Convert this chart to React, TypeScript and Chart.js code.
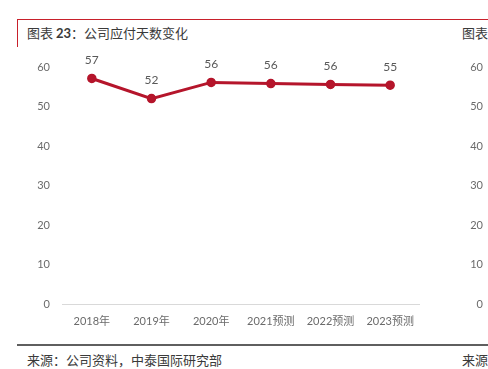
import React, { useEffect, useRef } from "react";
import { Chart, registerables } from "chart.js";

Chart.register(...registerables);

const categories = ["2018年", "2019年", "2020年", "2021预测", "2022预测", "2023预测"];
const payableDays = [57.1, 52.0, 56.1, 55.8, 55.6, 55.4];
const yMin = 0;
const yMax = 60;
const yStep = 10;

const titleText = "公司应付天数变化";
const titleNo = "23";
const sourceText = "来源：公司资料，中泰国际研究部";

const LINE_COLOR = "#B5152B";
const TEXT_GRAY = "#6b6b6b";
const FONT = "Lato, 'Noto Sans CJK SC', sans-serif";
const CJK = "'Noto Sans CJK SC', sans-serif";

const dataLabelPlugin = {
  id: "dataLabels",
  afterDatasetsDraw(chart: any) {
    const ctx = chart.ctx;
    const meta = chart.getDatasetMeta(0);
    const ds = chart.data.datasets[0];
    ctx.save();
    ctx.font = "12px " + FONT;
    ctx.fillStyle = "#595959";
    ctx.textAlign = "center";
    ctx.textBaseline = "middle";
    meta.data.forEach((pt: any, i: number) => {
      ctx.fillText(String(Math.round(ds.data[i])), pt.x, pt.y - 18);
    });
    ctx.restore();
  },
};

export default function App() {
  const ref = useRef<HTMLCanvasElement | null>(null);

  useEffect(() => {
    if (!ref.current) return;
    const chart = new Chart(ref.current, {
      type: "line",
      data: {
        labels: categories,
        datasets: [
          {
            data: payableDays,
            borderColor: LINE_COLOR,
            backgroundColor: LINE_COLOR,
            borderWidth: 3,
            pointRadius: 4,
            pointBorderWidth: 1.5,
            pointBackgroundColor: LINE_COLOR,
            pointBorderColor: LINE_COLOR,
            tension: 0,
            yAxisID: "y",
          },
        ],
      },
      options: {
        responsive: false,
        animation: false,
        devicePixelRatio: 1,
        layout: { padding: { top: 21, bottom: 6, left: 0, right: 5 } },
        plugins: { legend: { display: false }, tooltip: { enabled: false } },
        scales: {
          x: {
            offset: true,
            grid: { display: false, drawTicks: false },
            border: { display: false },
            ticks: { color: TEXT_GRAY, font: { size: 11, family: FONT }, padding: 11, maxRotation: 0 },
            afterFit: (s: any) => {
              s.height = 30;
            },
          },
          y: {
            position: "left",
            min: yMin,
            max: yMax,
            ticks: { stepSize: yStep, color: TEXT_GRAY, font: { size: 11, family: FONT }, padding: 12 },
            grid: {
              drawTicks: false,
              color: (c: any) => (c.tick && c.tick.value === 0 ? "#d9d9d9" : "rgba(0,0,0,0)"),
              lineWidth: 1,
            },
            border: { display: false },
            afterFit: (s: any) => {
              s.width = 62;
            },
          },
          y2: {
            position: "right",
            min: yMin,
            max: yMax,
            ticks: {
              stepSize: yStep,
              color: TEXT_GRAY,
              font: { size: 11, family: FONT },
              crossAlign: "far",
              padding: 0,
            },
            grid: { display: false, drawTicks: false },
            border: { display: false },
            afterFit: (s: any) => {
              s.width = 63;
            },
          },
        },
      },
      plugins: [dataLabelPlugin],
    } as any);
    return () => chart.destroy();
  }, []);

  const text: React.CSSProperties = {
    position: "absolute",
    fontFamily: CJK,
    fontSize: 13,
    lineHeight: "15px",
    color: "#3a3a3a",
    whiteSpace: "nowrap",
  };

  return (
    <div style={{ position: "absolute", left: 0, top: 0, width: 488, height: 369, background: "#fff", overflow: "hidden" }}>
      <div
        style={{
          position: "absolute",
          left: 17,
          top: 19,
          width: 471,
          height: 27,
          borderTop: "1px solid #C8202B",
          borderLeft: "1px solid #C8202B",
        }}
      />
      <span style={{ ...text, left: 27, top: 25 }}>
        图表 <span style={{ fontFamily: FONT, fontWeight: 700 }}>{titleNo}</span>：{titleText}
      </span>
      <span style={{ ...text, left: 462, top: 25 }}>图表</span>
      <canvas ref={ref} width={488} height={294} style={{ position: "absolute", left: 0, top: 46, width: 488, height: 294 }} />
      <div style={{ position: "absolute", left: 17, top: 344, width: 471, height: 2, background: "#5f5f5f" }} />
      <span style={{ ...text, left: 27, top: 352 }}>{sourceText}</span>
      <span style={{ ...text, left: 462, top: 352 }}>来源</span>
    </div>
  );
}
